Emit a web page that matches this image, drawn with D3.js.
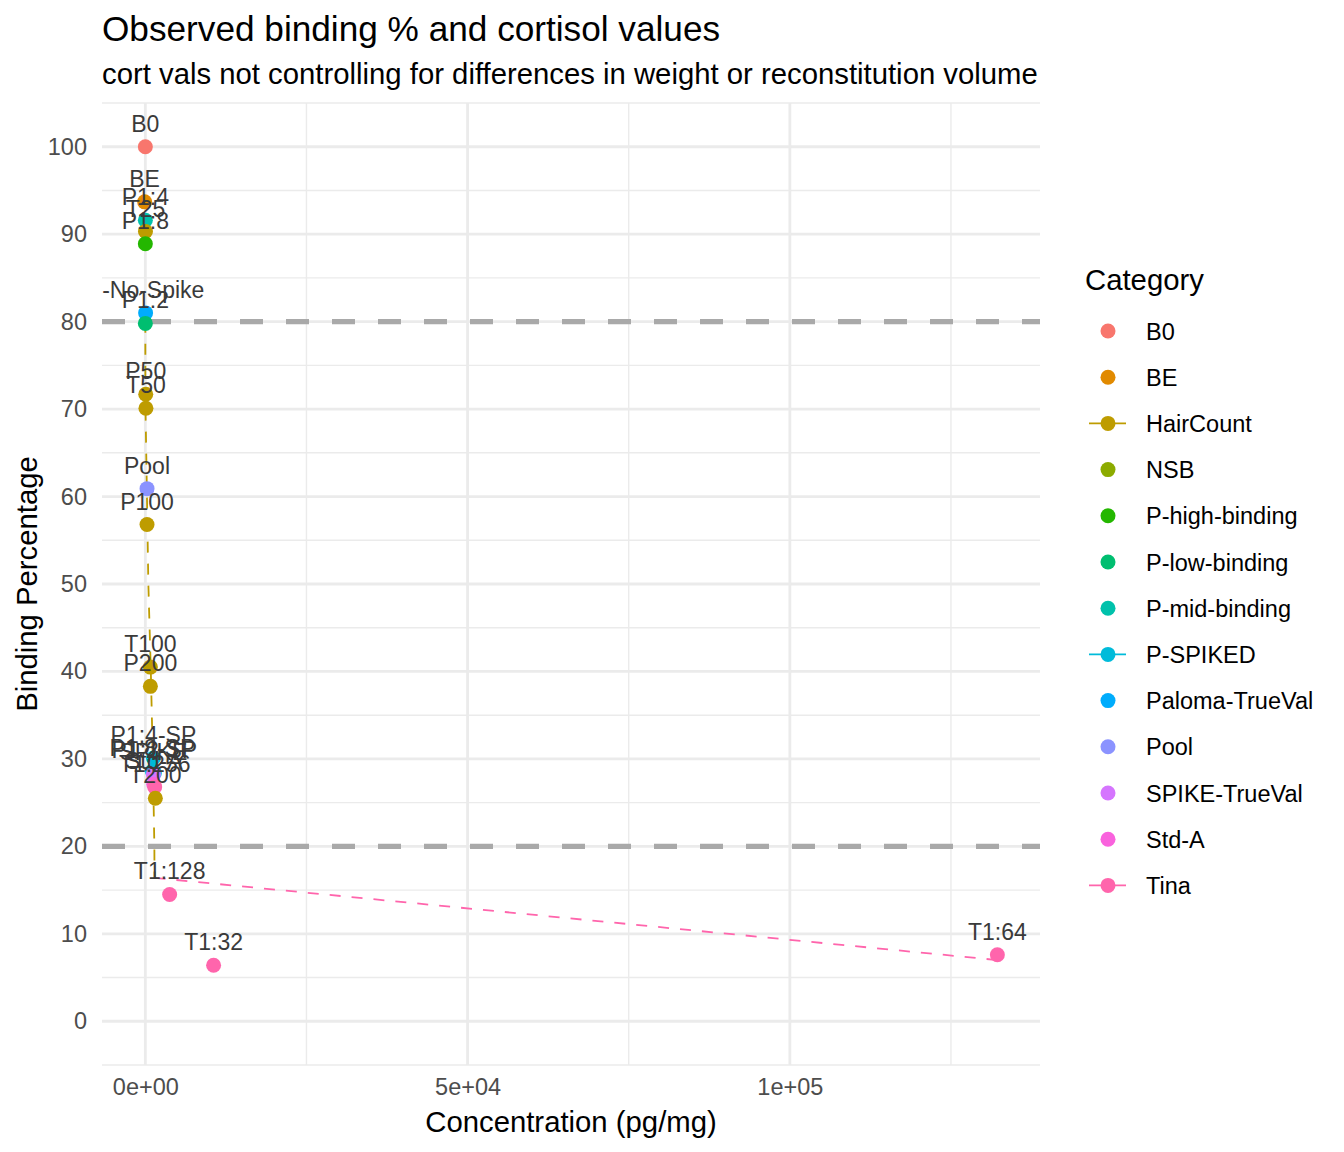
<!DOCTYPE html>
<html>
<head>
<meta charset="utf-8">
<script src="https://cdn.jsdelivr.net/npm/d3@7"></script>
<style>
  body { margin: 0; background: #fff; }
  text { font-family: "Liberation Sans", Arial, Helvetica, sans-serif; }
</style>
</head>
<body>
<div id="chart"></div>
<script>
  //============================================================
  // Data
  //------------------------------------------------------------

  var categories = ["B0", "BE", "HairCount", "NSB", "P-high-binding", "P-low-binding",
    "P-mid-binding", "P-SPIKED", "Paloma-TrueVal", "Pool", "SPIKE-TrueVal", "Std-A", "Tina"];

  var sampleLabels = ["B0", "BE", "P1:4", "T25", "P1:8", "P-No-Spike", "P1:2", "P50", "T50",
    "Pool", "P100", "T100", "P200", "P1:4-SP", "P1:8-SP", "P1:2-SP", "SPIKE", "Std-A",
    "T1:256", "T200", "T1:128", "T1:32", "T1:64", "NSB"];
  var sampleCategory = ["B0", "BE", "P-mid-binding", "HairCount", "P-high-binding",
    "Paloma-TrueVal", "P-low-binding", "HairCount", "HairCount", "Pool", "HairCount",
    "HairCount", "HairCount", "P-SPIKED", "P-SPIKED", "P-SPIKED", "SPIKE-TrueVal", "Std-A",
    "Tina", "HairCount", "Tina", "Tina", "Tina", "NSB"];
  // pg/mg, NSB has no concentration
  var concentration = [0, -110, 0, 20, 0, 40, 0, 60, 90, 260, 260, 780, 780, 1250, 1100,
    1400, 1250, 1300, 1450, 1550, 3770, 10590, 132200, null];
  var binding = [100, 93.7, 91.6, 90.3, 88.9, 81.0, 79.8, 71.7, 70.1, 60.9, 56.8, 40.5,
    38.3, 30.1, 28.6, 28.4, 28.2, 27.1, 26.8, 25.5, 14.5, 6.4, 7.6, 0];

  // dashed lines per group (concentration, binding)
  var hairLineConc = [0, 0, 230, 465, 850, 1160, 1400, 1420];
  var hairLineBind = [80, 71, 61, 50, 40, 30, 20, 16.4];
  var spikedLineConc = [1100, 1250, 1400];
  var spikedLineBind = [28.6, 30.1, 28.4];
  var tinaLineConc = [1420, 132200];
  var tinaLineBind = [16.4, 7.0];

  var refLines = [20, 80];

  var xTickValues = [0, 50000, 100000];
  var xTickLabels = ["0e+00", "5e+04", "1e+05"];
  var xMinorValues = [25000, 75000, 125000];
  var yTickValues = [0, 10, 20, 30, 40, 50, 60, 70, 80, 90, 100];
  var yMinorValues = [-5, 5, 15, 25, 35, 45, 55, 65, 75, 85, 95, 105];

  //============================================================
  // Settings
  //------------------------------------------------------------

  var width = 1344,
    height = 1152,
    margin = {top: 103, right: 304, bottom: 87, left: 102},
    pointRadius = 7.5,
    labelSize = 23,
    color = d3.scaleOrdinal()
      .domain(categories)
      .range(["#F8766D", "#E18A00", "#BE9C00", "#8CAB00", "#24B700", "#00BE70", "#00C1AB",
        "#00BBDA", "#00ACFC", "#8B93FF", "#D575FE", "#F962DD", "#FF65AC"]);

  var lineGroups = ["HairCount", "P-SPIKED", "Tina"];

  var points = sampleLabels.map(function(d, i) {
    return {label: d, cat: sampleCategory[i], x: concentration[i], y: binding[i]};
  });
  var lines = [
    {cat: "HairCount", xs: hairLineConc, ys: hairLineBind},
    {cat: "P-SPIKED", xs: spikedLineConc, ys: spikedLineBind},
    {cat: "Tina", xs: tinaLineConc, ys: tinaLineBind}
  ];

  function expand(ext) {
    var pad = (ext[1] - ext[0]) * 0.05;
    return [ext[0] - pad, ext[1] + pad];
  }

  var pw = width - margin.left - margin.right,
    ph = height - margin.top - margin.bottom;

  var x = d3.scaleLinear()
    .domain(expand(d3.extent(concentration.filter(function(d) { return d != null; }))))
    .range([0, pw]);
  var y = d3.scaleLinear()
    .domain(expand(d3.extent(binding)))
    .range([ph, 0]);

  //============================================================
  // Chart
  //------------------------------------------------------------

  var svg = d3.select("#chart").append("svg")
    .attr("width", width)
    .attr("height", height);

  svg.append("defs").append("clipPath").attr("id", "panel-clip")
    .append("rect").attr("width", pw).attr("height", ph);

  var g = svg.append("g").attr("transform", "translate(" + margin.left + "," + margin.top + ")");

  // grid
  var grid = g.append("g").attr("class", "grid");
  grid.selectAll(".ymin").data(yMinorValues).enter().append("line")
    .attr("x1", 0).attr("x2", pw)
    .attr("y1", function(d) { return y(d); }).attr("y2", function(d) { return y(d); })
    .style("stroke", "#EBEBEB").style("stroke-width", 1.4);
  grid.selectAll(".xmin").data(xMinorValues).enter().append("line")
    .attr("y1", 0).attr("y2", ph)
    .attr("x1", function(d) { return x(d); }).attr("x2", function(d) { return x(d); })
    .style("stroke", "#EBEBEB").style("stroke-width", 1.4);
  grid.selectAll(".ymaj").data(yTickValues).enter().append("line")
    .attr("x1", 0).attr("x2", pw)
    .attr("y1", function(d) { return y(d); }).attr("y2", function(d) { return y(d); })
    .style("stroke", "#EBEBEB").style("stroke-width", 2.8);
  grid.selectAll(".xmaj").data(xTickValues).enter().append("line")
    .attr("y1", 0).attr("y2", ph)
    .attr("x1", function(d) { return x(d); }).attr("x2", function(d) { return x(d); })
    .style("stroke", "#EBEBEB").style("stroke-width", 2.8);

  // axes
  var xAxis = d3.axisBottom(x)
    .tickValues(xTickValues)
    .tickFormat(function(d, i) { return xTickLabels[i]; })
    .tickSize(0).tickPadding(13);
  var yAxis = d3.axisLeft(y)
    .tickValues(yTickValues)
    .tickSize(0).tickPadding(15);

  var gx = g.append("g").attr("transform", "translate(0," + ph + ")").call(xAxis);
  var gy = g.append("g").call(yAxis);
  [gx, gy].forEach(function(a) {
    a.select(".domain").remove();
    a.selectAll("text")
      .style("font-size", "23.5px")
      .style("fill", "#4D4D4D")
      .style("font-family", "'Liberation Sans', Arial, sans-serif");
  });

  var panel = g.append("g").attr("clip-path", "url(#panel-clip)");

  // reference lines
  panel.selectAll(".ref").data(refLines).enter().append("line")
    .attr("x1", 0).attr("x2", pw)
    .attr("y1", function(d) { return y(d); }).attr("y2", function(d) { return y(d); })
    .style("stroke", "#A9A9A9").style("stroke-width", 5.4)
    .style("stroke-dasharray", "23,23");

  // group lines
  var lineGen = d3.line()
    .x(function(d) { return x(d[0]); })
    .y(function(d) { return y(d[1]); });

  panel.selectAll(".grp").data(lines).enter().append("path")
    .attr("d", function(d) { return lineGen(d3.zip(d.xs, d.ys)); })
    .style("fill", "none")
    .style("stroke", function(d) { return color(d.cat); })
    .style("stroke-width", 1.8)
    .style("stroke-dasharray", "11,11");

  var drawn = points.filter(function(d) { return d.x != null; });

  panel.selectAll(".pt").data(drawn).enter().append("circle")
    .attr("cx", function(d) { return x(d.x); })
    .attr("cy", function(d) { return y(d.y); })
    .attr("r", pointRadius)
    .style("fill", function(d) { return color(d.cat); });

  panel.selectAll(".lbl").data(drawn).enter().append("text")
    .attr("x", function(d) { return x(d.x); })
    .attr("y", function(d) { return y(d.y) - 15; })
    .attr("text-anchor", "middle")
    .style("font-size", labelSize + "px")
    .style("fill", "#3a3a3a")
    .text(function(d) { return d.label; });

  //------------------------------------------------------------
  // Titles

  svg.append("text").attr("x", margin.left).attr("y", 41)
    .style("font-size", "35.2px").style("fill", "#000")
    .text("Observed binding % and cortisol values");
  svg.append("text").attr("x", margin.left).attr("y", 84)
    .style("font-size", "29.3px").style("fill", "#000")
    .text("cort vals not controlling for differences in weight or reconstitution volume");
  svg.append("text").attr("x", margin.left + pw / 2).attr("y", 1132)
    .attr("text-anchor", "middle")
    .style("font-size", "29.3px").style("fill", "#000")
    .text("Concentration (pg/mg)");
  svg.append("text")
    .attr("transform", "translate(37," + (margin.top + ph / 2) + ") rotate(-90)")
    .attr("text-anchor", "middle")
    .style("font-size", "29.3px").style("fill", "#000")
    .text("Binding Percentage");

  //------------------------------------------------------------
  // Legend

  var legend = svg.append("g").attr("transform", "translate(1085,0)");
  legend.append("text").attr("x", 0).attr("y", 290)
    .style("font-size", "29.3px").style("fill", "#000")
    .text("Category");

  var items = legend.selectAll(".item").data(categories).enter().append("g")
    .attr("transform", function(d, i) { return "translate(0," + (331 + i * 46.2) + ")"; });
  items.filter(function(d) { return lineGroups.indexOf(d) >= 0; })
    .append("line")
    .attr("x1", 4).attr("x2", 41)
    .style("stroke", function(d) { return color(d); })
    .style("stroke-width", 1.8);
  items.append("circle")
    .attr("cx", 23).attr("r", pointRadius)
    .style("fill", function(d) { return color(d); });
  items.append("text")
    .attr("x", 61).attr("y", 8.5)
    .style("font-size", "23.5px").style("fill", "#000")
    .text(function(d) { return d; });
</script>
</body>
</html>
